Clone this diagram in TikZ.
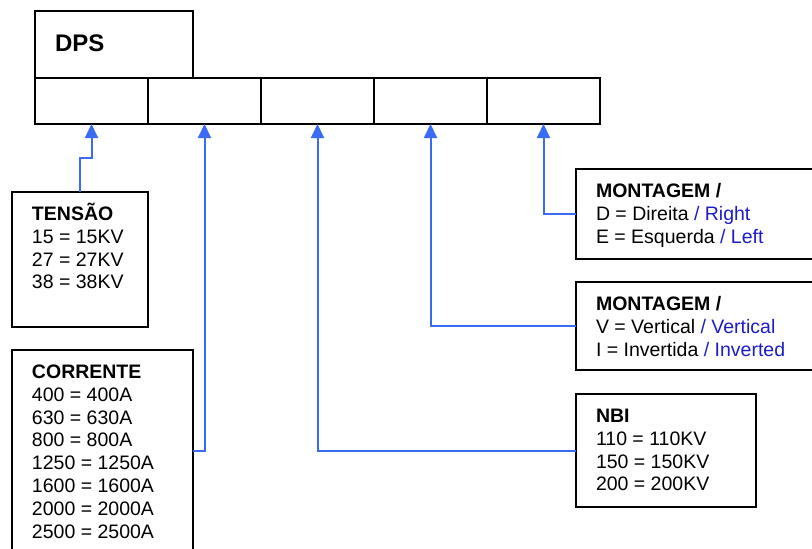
\documentclass[tikz,border=0pt]{standalone}
\usepackage{fontspec}
\setmainfont{Liberation Sans}
\usetikzlibrary{arrows.meta}
\definecolor{feedblue}{HTML}{3A6BF5}
\definecolor{labelblue}{HTML}{1C1CC8}

\begin{document}
\begin{tikzpicture}[
  x=0.5pt,
  y=0.5pt,
  every node/.style={font=\fontsize{9.75pt}{11.4pt}\selectfont, inner sep=0pt, outer sep=0pt},
  frame/.style={draw=black, line width=1pt, anchor=north west},
  cell/.style={draw=black, line width=1pt, anchor=north west, minimum width=56.5pt, minimum height=23pt},
  feed/.style={draw=feedblue, line width=1pt, -{Triangle[length=7pt,width=6.5pt]}},
  legend/.style={anchor=north west, align=left}
]
  \useasboundingbox (0,0) rectangle (812,-548);
  \clip (0,0) rectangle (812,-548);

  % code head
  \node[frame, minimum width=79pt, minimum height=33.5pt] (dps) at (35,-11) {};
  \node[font=\fontsize{12pt}{14pt}\selectfont\bfseries, anchor=west] (dpstxt)
    at ([shift={(20,-32)}]dps.north west) {DPS};
  \foreach \i in {1,...,5}
    \node[cell] (c\i) at ({35+113*(\i-1)},-78) {};

  % option boxes
  \node[frame, minimum width=68pt, minimum height=67.5pt] (tensao) at (12,-192) {};
  \node[frame, minimum width=90.5pt, minimum height=101pt] (corrente) at (12,-350) {};
  \node[frame, minimum width=90pt, minimum height=56.5pt] (nbi) at (576,-394) {};
  \node[frame, minimum width=130pt, minimum height=44pt] (montv) at (576,-282) {};
  \node[frame, minimum width=130pt, minimum height=45pt] (montd) at (576,-169) {};

  \node[legend] (tensaotxt) at ([shift={(20,-10.5)}]tensao.north west)
    {\rule{0pt}{9pt}\textbf{TENSÃO}\\15 = 15KV\\27 = 27KV\\38 = 38KV};
  \node[legend] (correntetxt) at ([shift={(20,-10.5)}]corrente.north west)
    {\rule{0pt}{9pt}\textbf{CORRENTE}\\400 = 400A\\630 = 630A\\800 = 800A\\
     1250 = 1250A\\1600 = 1600A\\2000 = 2000A\\2500 = 2500A};
  \node[legend] (nbitxt) at ([shift={(20,-10.5)}]nbi.north west)
    {\rule{0pt}{9pt}\textbf{NBI}\\110 = 110KV\\150 = 150KV\\200 = 200KV};
  \node[legend] (montvtxt) at ([shift={(20,-10.5)}]montv.north west)
    {\rule{0pt}{9pt}\textbf{MONTAGEM /}\\
     V = Vertical \textcolor{labelblue}{/ Vertical}\\
     I = Invertida \textcolor{labelblue}{/ Inverted}};
  \node[legend] (montdtxt) at ([shift={(20,-10.5)}]montd.north west)
    {\rule{0pt}{9pt}\textbf{MONTAGEM /}\\
     D = Direita \textcolor{labelblue}{/ Right}\\
     E = Esquerda \textcolor{labelblue}{/ Left}};

  % connectors
  \draw[feed] (tensao.north) -- ++(0,34) -| (c1.south);
  \draw[feed] (corrente.east) -| (c2.south);
  \draw[feed] (nbi.west) -| (c3.south);
  \draw[feed] (montv.west) -| (c4.south);
  \draw[feed] (montd.west) -| (c5.south);
\end{tikzpicture}
\end{document}
